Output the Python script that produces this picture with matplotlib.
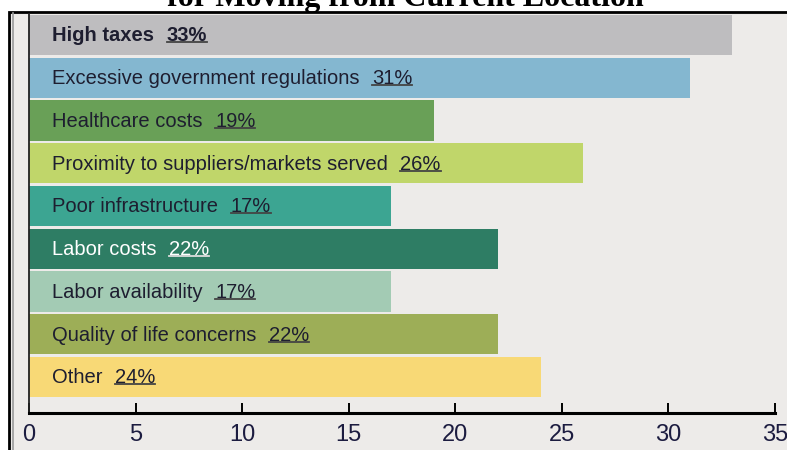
import matplotlib.pyplot as plt
from matplotlib.patches import Rectangle
from matplotlib.lines import Line2D

# chart data
reasons = [
    "High taxes",
    "Excessive government regulations",
    "Healthcare costs",
    "Proximity to suppliers/markets served",
    "Poor infrastructure",
    "Labor costs",
    "Labor availability",
    "Quality of life concerns",
    "Other",
]
percents = [33, 31, 19, 26, 17, 22, 17, 22, 24]
bar_colors = [
    "#BEBDBF", "#84B7D0", "#69A057", "#C0D66A", "#3CA592",
    "#2E7D64", "#A3CBB4", "#9DAE57", "#F8D976",
]
xticks = [0, 5, 10, 15, 20, 25, 30, 35]
title = "for Moving from Current Location"

BG = "#EDEBE9"
TXT = "#1E1E30"
SANS = ["Liberation Sans", "DejaVu Sans"]

fig = plt.figure(figsize=(7.87, 4.5), dpi=100, facecolor="white")

# framed panel behind the axes
fig.patches.append(
    Rectangle((9 / 787, -0.2), 1.2, 1.2 - 12 / 450, transform=fig.transFigure,
              facecolor=BG, edgecolor="black", linewidth=2.0, zorder=-5)
)
fig.add_artist(Line2D([12.5 / 787, 12.5 / 787], [0, 1 - 13 / 450],
                      transform=fig.transFigure, color="#9A9A9A", lw=1.2, zorder=-4))

fig.text(405 / 787, 1 - 6 / 450, title, ha="center", va="baseline",
         family="Liberation Serif", weight="bold", fontsize=23)

ax = fig.add_axes([29 / 787, 1 - 413 / 450, 746 / 787, 399 / 450])
ax.set_facecolor("none")

y = list(range(len(reasons)))
ax.barh(y, percents, height=0.94, color=bar_colors, linewidth=0, zorder=2)

ax.set_xlim(0, 35)
ax.set_ylim(8.84, -0.49)
ax.set_yticks([])
ax.set_xticks(xticks)
ax.set_xticklabels([str(t) for t in xticks], family=SANS,
                   fontsize=17, color="#1C1C40")
ax.tick_params(axis="x", direction="in", length=7, width=1.4, color="black", pad=8)

for s in ["top", "right"]:
    ax.spines[s].set_visible(False)
ax.spines["left"].set_color("#222222")
ax.spines["left"].set_linewidth(1.3)
ax.spines["bottom"].set_color("black")
ax.spines["bottom"].set_linewidth(2.2)

value_texts = []
for i, (name, pct) in enumerate(zip(reasons, percents)):
    col = "white" if name == "Labor costs" else TXT
    wt = "bold" if i == 0 else "normal"
    lab = ax.text(1.08, i + 0.02, name, va="center", ha="left", fontsize=14.5,
                  family=SANS, color=col, weight=wt, zorder=3)
    val = ax.annotate(f"{pct}%", xy=(1, 0), xycoords=lab, xytext=(9, 0),
                      textcoords="offset points", ha="left", va="bottom",
                      fontsize=14.5, family=SANS, color=col,
                      weight=wt, zorder=3)
    value_texts.append((val, col))

# underline the percentages
fig.canvas.draw()
r = fig.canvas.get_renderer()
inv = fig.transFigure.inverted()
for val, col in value_texts:
    bb = val.get_window_extent(r)
    (x0, y0), (x1, _) = inv.transform([(bb.x0, bb.y0 + 3), (bb.x1, bb.y0)])
    ucol = "#DDDDDD" if col == "white" else "#444444"
    fig.add_artist(Line2D([x0, x1], [y0, y0], transform=fig.transFigure,
                          color=ucol, lw=1.3, zorder=4))

fig.savefig("out.png", dpi=100, facecolor="white")
